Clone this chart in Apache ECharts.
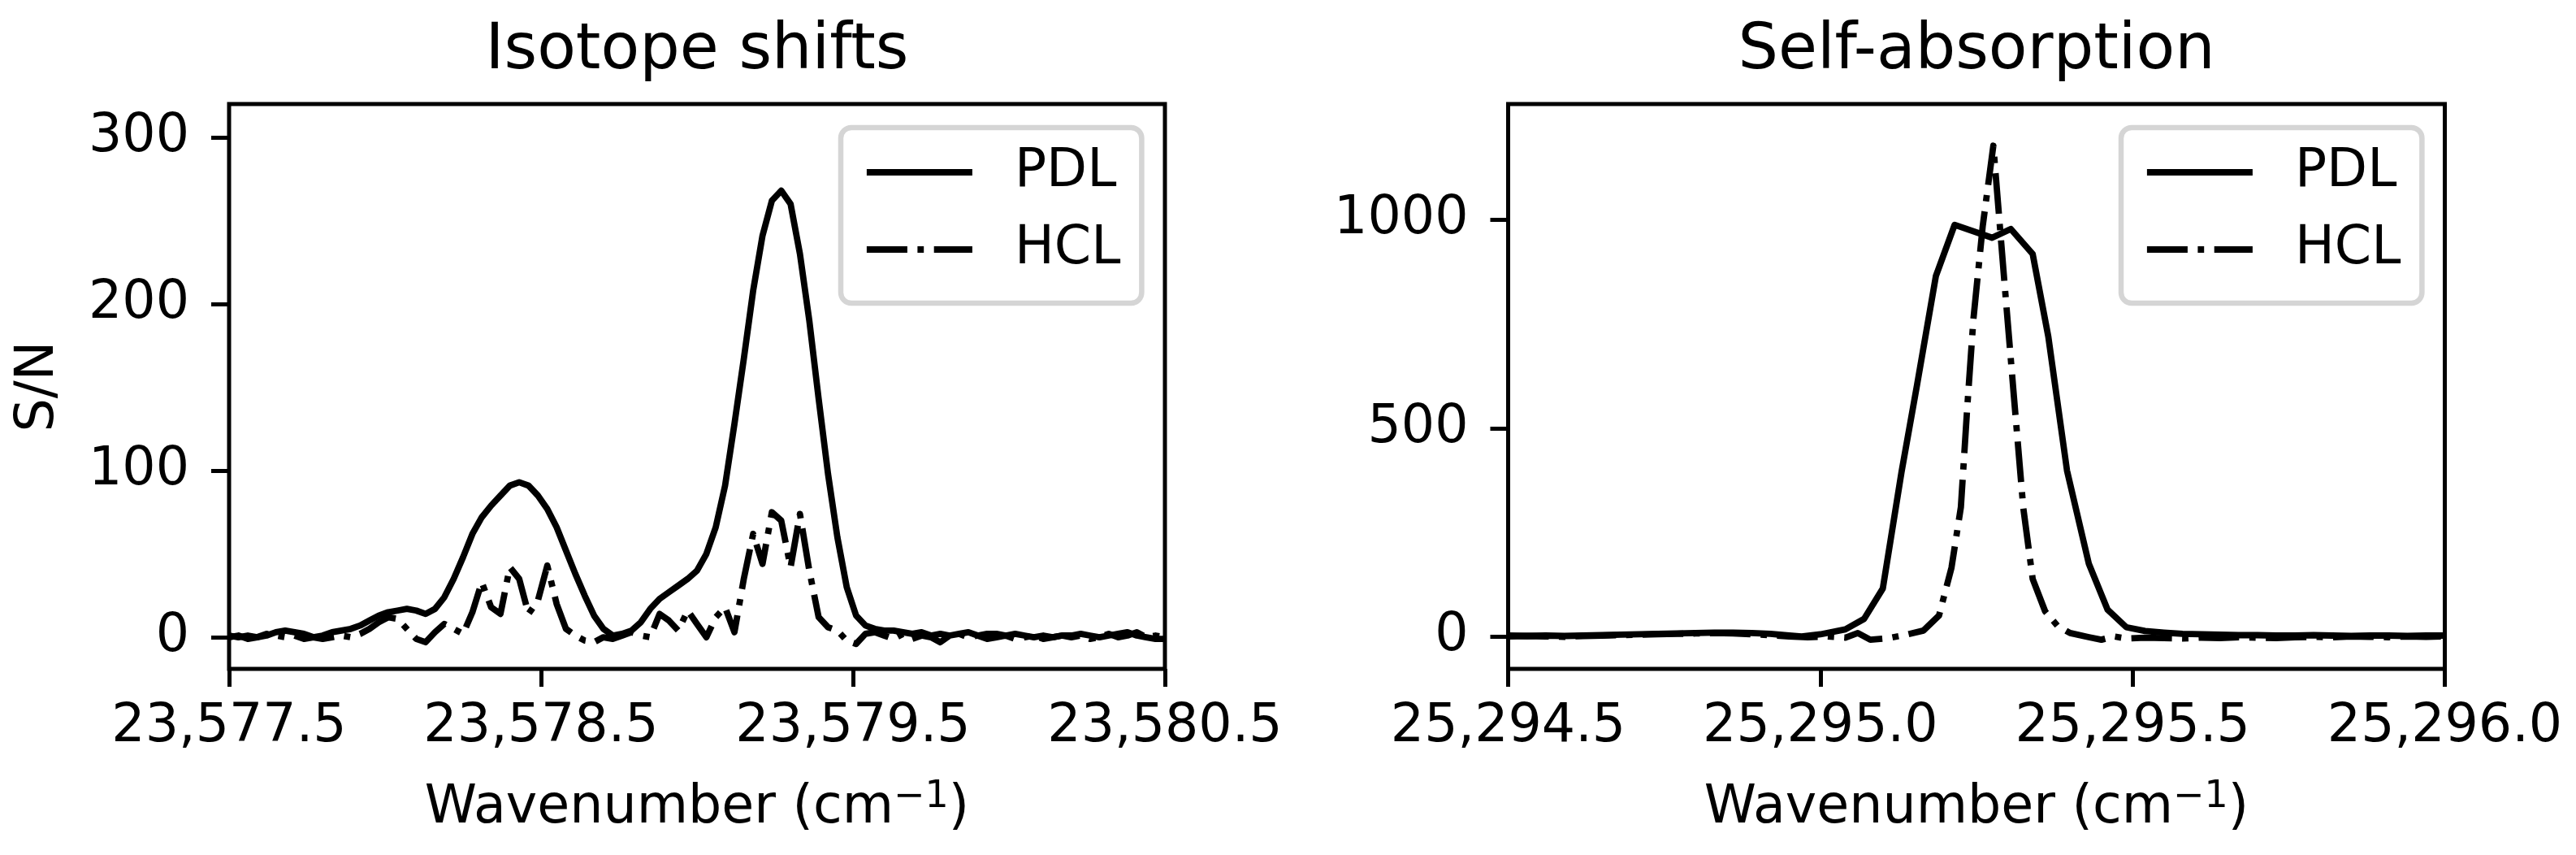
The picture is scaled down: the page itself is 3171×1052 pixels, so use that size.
<!DOCTYPE html>
<html><head><meta charset="utf-8">
<script src="https://cdn.jsdelivr.net/npm/echarts@6/dist/echarts.min.js"></script>
<style>html,body{margin:0;padding:0;background:#fff}#c{width:3171px;height:1052px}</style>
</head><body><div id="c"></div>
<script>
// ---------- Data ----------
const leftWavenumber = [23577.50,23577.53,23577.56,23577.59,23577.62,23577.65,23577.68,23577.71,23577.74,23577.77,
23577.80,23577.83,23577.86,23577.89,23577.92,23577.95,23577.98,23578.01,23578.04,23578.07,
23578.10,23578.13,23578.16,23578.19,23578.22,23578.25,23578.28,23578.31,23578.34,23578.37,
23578.40,23578.43,23578.46,23578.49,23578.52,23578.55,23578.58,23578.61,23578.64,23578.67,
23578.70,23578.73,23578.76,23578.79,23578.82,23578.85,23578.88,23578.91,23578.94,23578.97,
23579.00,23579.03,23579.06,23579.09,23579.12,23579.15,23579.18,23579.21,23579.24,23579.27,
23579.30,23579.33,23579.36,23579.39,23579.42,23579.45,23579.48,23579.51,23579.54,23579.57,
23579.60,23579.63,23579.66,23579.69,23579.72,23579.75,23579.78,23579.81,23579.84,23579.87,
23579.90,23579.93,23579.96,23579.99,23580.02,23580.05,23580.08,23580.11,23580.14,23580.17,
23580.20,23580.23,23580.26,23580.29,23580.32,23580.35,23580.38,23580.41,23580.44,23580.47,
23580.50];
const leftPDL = [1,0,1,0,1,3,4,3,2,0,
1,3,4,5,7,10,13,15,16,17,
16,14,17,24,35,48,62,72,79,85,
91,93,91,85,77,66,52,38,25,13,
5,1,2,4,9,17,23,27,31,35,
40,50,66,91,128,167,208,241,262,268,
260,230,190,143,98,60,30,13,7,5,
4,4,3,2,3,1,2,1,2,3,
1,2,2,1,2,1,0,1,0,1,
1,2,1,0,1,2,3,1,0,-1,
-1];
const leftHCL = [0,1,-1,0,2,1,0,1,-1,0,
-1,0,1,0,2,5,9,12,11,5,
-1,-3,3,8,5,2,15,33,18,14,
42,35,14,22,43,20,5,1,-2,-3,
0,-1,1,3,1,0,14,10,4,16,
8,0,12,18,3,35,62,44,75,70,
42,74,40,12,6,4,-2,-4,2,3,
1,-1,2,-1,1,0,-3,1,2,0,
1,-1,0,1,-1,0,1,-1,0,1,
0,1,-1,0,2,0,1,3,0,1,
0];

const rightPDL = [[25294.50,2],[25294.53,1],[25294.56,2],[25294.59,1],[25294.62,2],[25294.65,3],[25294.68,4],[25294.71,5],
[25294.74,6],[25294.77,7],[25294.80,8],[25294.83,9],[25294.86,9],[25294.89,8],[25294.92,6],[25294.95,2],[25294.97,0],
[25295.00,5],[25295.04,17],[25295.07,42],[25295.10,115],[25295.13,395],[25295.155,605],[25295.185,865],[25295.215,988],
[25295.275,957],[25295.305,978],[25295.34,918],[25295.365,720],[25295.395,398],[25295.43,174],[25295.46,64],[25295.49,22],
[25295.52,13],[25295.55,9],[25295.58,6],[25295.61,5],[25295.64,4],[25295.67,3],[25295.70,3],[25295.73,2],[25295.76,2],
[25295.79,3],[25295.82,2],[25295.85,1],[25295.88,2],[25295.91,2],[25295.94,1],[25295.97,2],[25296.00,2]];
const rightHCL = [[25294.50,0],[25294.53,1],[25294.56,0],[25294.59,-1],[25294.62,1],[25294.65,2],[25294.68,3],[25294.71,4],
[25294.74,5],[25294.77,6],[25294.80,7],[25294.83,8],[25294.86,7],[25294.89,5],[25294.92,3],[25294.95,0],[25294.98,-2],
[25295.01,0],[25295.04,-3],[25295.06,8],[25295.08,-8],[25295.11,-4],[25295.14,5],[25295.165,14],[25295.19,50],[25295.21,165],
[25295.225,310],[25295.235,545],[25295.245,760],[25295.26,985],[25295.277,1178],[25295.295,846],[25295.31,575],[25295.325,308],
[25295.34,138],[25295.36,60],[25295.38,25],[25295.40,8],[25295.43,-2],[25295.45,-8],[25295.47,0],[25295.49,-5],[25295.52,-3],
[25295.55,-4],[25295.58,-5],[25295.61,-3],[25295.64,-4],[25295.67,-2],[25295.70,-3],[25295.73,-4],[25295.76,-2],[25295.79,-1],
[25295.82,-2],[25295.85,0],[25295.88,-1],[25295.91,-2],[25295.94,0],[25295.97,-1],[25296.00,0]];

const leftXTicks = [23577.5, 23578.5, 23579.5, 23580.5];
const rightXTicks = [25294.5, 25295.0, 25295.5, 25296.0];
const leftYTicks = [0, 100, 200, 300];
const rightYTicks = [0, 500, 1000];
const titles = ['Isotope shifts', 'Self-absorption'];
const seriesNames = ['PDL', 'HCL'];

// ---------- Chart ----------
const FONT = 'DejaVu Sans';
const FS = 65;
const LW = 7.8;
const DASHDOT = [50, 12.5, 7.8, 12.5];

function fmtX(v) {
  const s = Number(v).toFixed(1);
  const parts = s.split('.');
  return parts[0].replace(/\B(?=(\d{3})+(?!\d))/g, ',') + '.' + parts[1];
}
const txt = {fontFamily: FONT, fontSize: FS, color: '#000'};

function xAxisCfg(gi, min, max, ticks) {
  return {
    gridIndex: gi, type: 'value', min: min, max: max, position: 'bottom',
    axisLine: {show: false, onZero: false}, splitLine: {show: false},
    axisTick: {show: true, inside: false, customValues: ticks, length: 22, lineStyle: {width: 5, color: '#000'}},
    axisLabel: Object.assign({customValues: ticks, formatter: fmtX, margin: 35, lineHeight: 75}, txt),
    name: '{m|Wavenumber (cm}{s|−1}{m|)}', nameLocation: 'middle', nameGap: 135,
    nameTextStyle: {rich: {
      m: Object.assign({lineHeight: 75}, txt),
      s: {fontFamily: FONT, fontSize: 46, color: '#000', lineHeight: 34, verticalAlign: 'top'}
    }}
  };
}
function yAxisCfg(gi, min, max, ticks, name) {
  return {
    gridIndex: gi, type: 'value', min: min, max: max, position: 'left',
    axisLine: {show: false, onZero: false}, splitLine: {show: false},
    axisTick: {show: true, inside: false, customValues: ticks, length: 22, lineStyle: {width: 5, color: '#000'}},
    axisLabel: Object.assign({customValues: ticks, margin: 49, lineHeight: 75, formatter: (v) => String(v)}, txt),
    name: name, nameLocation: 'middle', nameGap: 196.5,
    nameTextStyle: Object.assign({lineHeight: 75}, txt)
  };
}
function legendCfg(left) {
  return {
    show: true, orient: 'vertical', left: left, top: 157, data: seriesNames,
    selectedMode: false, itemWidth: 130, itemHeight: 20, itemGap: 25,
    padding: [20, 26, 31, 28],
    backgroundColor: '#fff', borderColor: '#d5d5d5', borderWidth: 6.5, borderRadius: 13,
    lineStyle: {width: LW},
    itemStyle: {color: 'transparent', borderWidth: 0, opacity: 0},
    textStyle: Object.assign({lineHeight: 70, padding: [0, 0, 0, 47]}, txt)
  };
}
function series(name, gi, data, dashed) {
  return {
    name: name, type: 'line', xAxisIndex: gi, yAxisIndex: gi, data: data,
    showSymbol: false, symbol: 'none', animation: false, silent: true,
    lineStyle: {color: '#000', width: LW, type: dashed ? DASHDOT : 'solid', join: 'round', cap: 'butt'},
    itemStyle: {color: '#000'}
  };
}

const chart = echarts.init(document.getElementById('c'), null, {renderer: 'canvas'});
chart.setOption({
  animation: false,
  backgroundColor: '#fff',
  title: [
    {text: titles[0], left: 858, top: 17, textAlign: 'center', padding: 0,
     textStyle: {fontFamily: FONT, fontSize: 78, fontWeight: 'normal', color: '#000', lineHeight: 94}},
    {text: titles[1], left: 2433, top: 17, textAlign: 'center', padding: 0,
     textStyle: {fontFamily: FONT, fontSize: 78, fontWeight: 'normal', color: '#000', lineHeight: 94}}
  ],
  legend: [legendCfg(1035), legendCfg(2611)],
  grid: [
    {left: 282, top: 128, width: 1152, height: 695, show: true, borderColor: '#000', borderWidth: 5, backgroundColor: 'transparent', containLabel: false, outerBoundsMode: 'none'},
    {left: 1856.5, top: 128, width: 1153, height: 695, show: true, borderColor: '#000', borderWidth: 5, backgroundColor: 'transparent', containLabel: false, outerBoundsMode: 'none'}
  ],
  xAxis: [xAxisCfg(0, 23577.5, 23580.5, leftXTicks), xAxisCfg(1, 25294.5, 25296.0, rightXTicks)],
  yAxis: [yAxisCfg(0, -19, 320, leftYTicks, 'S/N'), yAxisCfg(1, -78, 1278, rightYTicks, '')],
  series: [
    series(seriesNames[0], 0, leftWavenumber.map((x, i) => [x, leftPDL[i]]), false),
    series(seriesNames[1], 0, leftWavenumber.map((x, i) => [x, leftHCL[i]]), true),
    series(seriesNames[0], 1, rightPDL, false),
    series(seriesNames[1], 1, rightHCL, true)
  ]
});
</script></body></html>
